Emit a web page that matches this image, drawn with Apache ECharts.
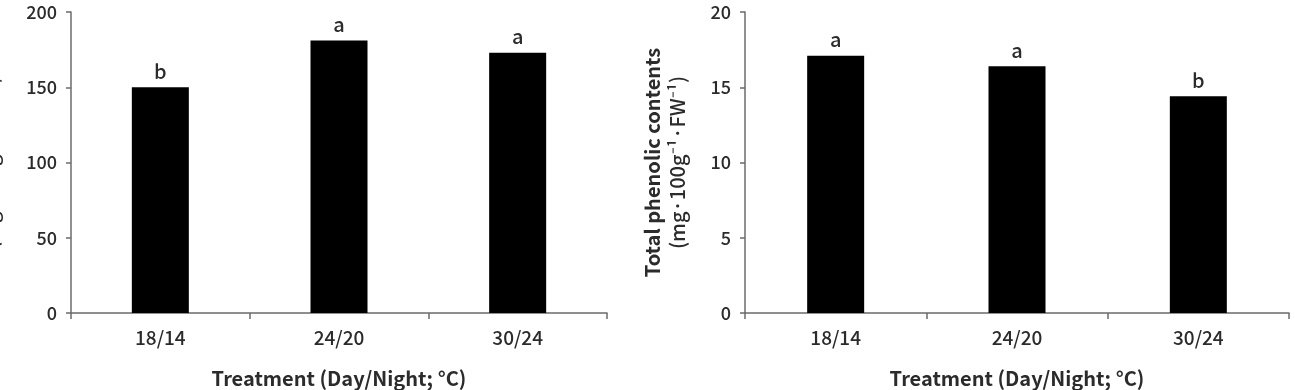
<!DOCTYPE html>
<html>
<head>
<meta charset="utf-8">
<script src="https://cdn.jsdelivr.net/npm/echarts@6/dist/echarts.min.js"></script>
<style>
  html, body { margin: 0; padding: 0; background: #fff; }
  #chart { width: 1295px; height: 390px; }
</style>
</head>
<body>
<div id="chart"></div>
<script>
const categories = ["18/14", "24/20", "30/24"]
const leftValues = [150, 181, 173]
const leftLetters = ["b", "a", "a"]
const rightValues = [17.1, 16.4, 14.4]
const rightLetters = ["a", "a", "b"]

const FONT = '"Noto Sans CJK KR", "Open Sans", sans-serif'
const AXIS_COLOR = "#6b6b6b"
const TEXT_COLOR = "#2b2b2b"

const chart = echarts.init(document.getElementById("chart"), null, { renderer: "canvas" })

function xAxisFor(gridIndex) {
  return {
    type: "category",
    gridIndex,
    data: categories,
    name: "Treatment (Day/Night; °C)",
    nameLocation: "middle",
    nameGap: 55,
    nameTextStyle: { fontFamily: FONT, fontSize: 20, fontWeight: "bold", color: TEXT_COLOR },
    axisLine: { lineStyle: { color: AXIS_COLOR, width: 1.5 } },
    axisTick: { show: true, alignWithLabel: false, length: 6, lineStyle: { color: AXIS_COLOR, width: 1.5 } },
    axisLabel: { fontFamily: FONT, fontSize: 19, fontWeight: 500, color: TEXT_COLOR, margin: 15 },
    splitLine: { show: false }
  }
}

function yAxisFor(gridIndex, max, interval, name, gap) {
  return {
    type: "value",
    gridIndex,
    min: 0,
    max,
    interval,
    name,
    nameLocation: "middle",
    nameGap: gap,
    nameMoveOverlap: false,
    nameTextStyle: {
      fontFamily: FONT,
      color: TEXT_COLOR,
      lineHeight: 25,
      rich: {
        t: { fontFamily: FONT, fontSize: 20, fontWeight: "bold", color: TEXT_COLOR, lineHeight: 25 },
        u: { fontFamily: FONT, fontSize: 20, fontWeight: 500, color: TEXT_COLOR, lineHeight: 25 }
      }
    },
    axisLine: { show: true, lineStyle: { color: AXIS_COLOR, width: 1.5 } },
    axisTick: { show: true, length: 5, lineStyle: { color: AXIS_COLOR, width: 1.5 } },
    axisLabel: { fontFamily: FONT, fontSize: 18, fontWeight: 500, color: TEXT_COLOR, margin: 14 },
    splitLine: { show: false }
  }
}

function barSeries(index, values, letters) {
  return {
    type: "bar",
    xAxisIndex: index,
    yAxisIndex: index,
    data: values,
    barWidth: 57,
    itemStyle: { color: "#000" },
    label: {
      show: true,
      position: "top",
      distance: 6,
      fontFamily: FONT,
      fontSize: 20,
      fontWeight: 500,
      color: TEXT_COLOR,
      formatter: p => letters[p.dataIndex]
    }
  }
}

chart.setOption({
  animation: false,
  grid: [
    { left: 71, top: 12, width: 536, height: 301, outerBoundsMode: "none", containLabel: false },
    { left: 745, top: 12, width: 544, height: 301, outerBoundsMode: "none", containLabel: false }
  ],
  xAxis: [xAxisFor(0), xAxisFor(1)],
  yAxis: [
    yAxisFor(0, 200, 50, "{t|Total flavonoid contents}\n{u|(mg·100g⁻¹·FW⁻¹)}", 68),
    yAxisFor(1, 20, 5, "{t|Total phenolic contents}\n{u|(mg·100g⁻¹·FW⁻¹)}", 55)
  ],
  series: [
    barSeries(0, leftValues, leftLetters),
    barSeries(1, rightValues, rightLetters)
  ]
})
</script>
</body>
</html>
